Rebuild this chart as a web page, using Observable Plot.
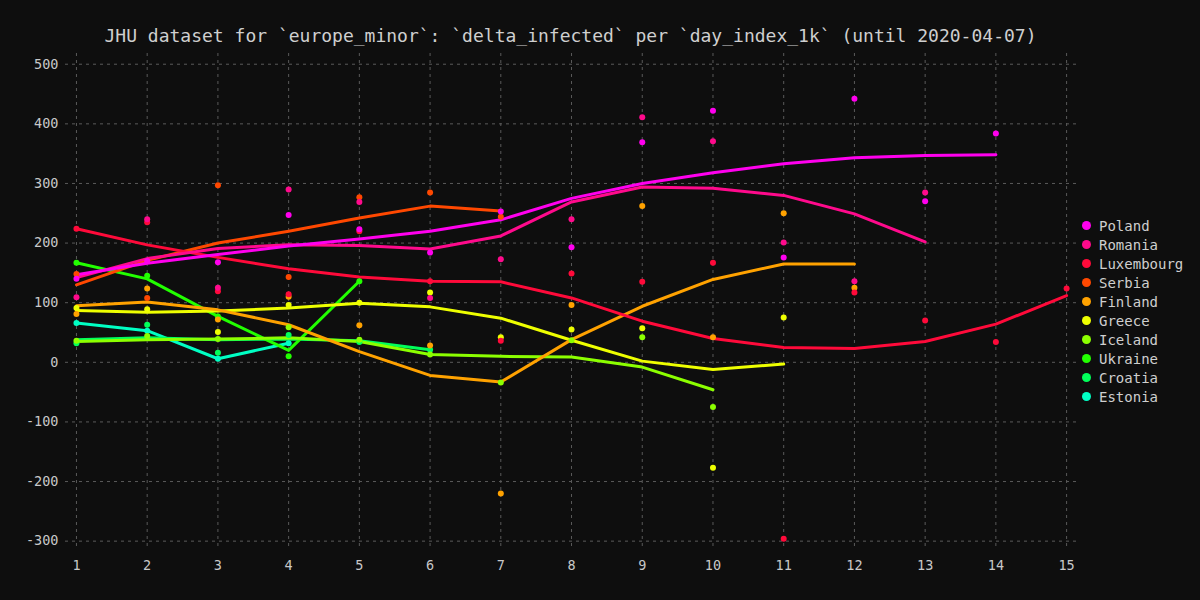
<!DOCTYPE html>
<html>
<head>
<meta charset="utf-8">
<script src="https://cdn.jsdelivr.net/npm/d3@7"></script>
<script src="https://cdn.jsdelivr.net/npm/@observablehq/plot@0.6"></script>
<style>
  html, body { margin: 0; padding: 0; background: #0e0e0e; }
  body { width: 1200px; height: 600px; overflow: hidden; position: relative; font-family: "DejaVu Sans Mono", "Liberation Mono", monospace; }
  #title { position: absolute; left: 0; top: 25px; width: 1141px; text-align: center; color: #cfcfcf; font-size: 18px; line-height: 22px; white-space: nowrap; }
  #chart { position: absolute; left: 0; top: 51px; }
  #legend { position: absolute; left: 1082px; top: 216px; }
  .row { height: 19px; display: flex; align-items: center; color: #cfcfcf; font-size: 14px; white-space: nowrap; }
  .sw { width: 9px; height: 9px; border-radius: 50%; margin-right: 8px; }
</style>
</head>
<body>
<div id="title">JHU dataset for `europe_minor`: `delta_infected` per `day_index_1k` (until 2020-04-07)</div>
<div id="chart"></div>
<div id="legend"></div>
<script>
const days = [1, 2, 3, 4, 5, 6, 7, 8, 9, 10, 11, 12, 13, 14, 15];
const yTicks = [-300, -200, -100, 0, 100, 200, 300, 400, 500];
const countries = ["Poland", "Romania", "Luxembourg", "Serbia", "Finland", "Greece", "Iceland", "Ukraine", "Croatia", "Estonia"];
const colors = ["#ff00ee", "#ff0a8c", "#ff0a3a", "#ff4800", "#ffa200", "#eeff00", "#8cff00", "#22ff00", "#00ff5a", "#00ffc4"];

// daily points (index 0 = day 1)
const polandPts     = [140, 170, 168, 247, 223, 184, 253, 193, 369, 422, 176, 442, 270, 384];
const romaniaPts    = [109, 240, 125, 290, 269, 108, 173, 240, 411, 371, 201, 136, 285];
const luxembourgPts = [224, 235, 119, 114, 220, 136, 36, 149, 135, 167, -296, 117, 70, 34, 124];
const serbiaPts     = [148, 108, 297, 143, 277, 285, 244];
const finlandPts    = [81, 124, 72, 110, 62, 28, -220, 96, 262, 42, 250, 125];
const greecePts     = [91, 89, 51, 96, 100, 117, 42, 55, 57, -177, 75];
const icelandPts    = [36, 44, 39, 59, 38, 13, -34, 37, 42, -75];
const ukrainePts    = [167, 145, 77, 10, 136];
const croatiaPts    = [32, 63, 16, 46, 34, 21];
const estoniaPts    = [66, 53, 6, 32];

// smoothed trend lines (index 0 = day 1)
const polandLine     = [147, 166, 181, 195, 207, 220, 239, 275, 300, 318, 333, 343, 347, 348];
const romaniaLine    = [142, 174, 191, 197, 196, 190, 212, 269, 294, 292, 280, 249, 202];
const luxembourgLine = [224, 197, 176, 157, 143, 136, 135, 108, 69, 40, 25, 23, 35, 64, 112];
const serbiaLine     = [130, 171, 200, 220, 242, 262, 254];
const finlandLine    = [95, 101, 88, 63, 18, -22, -33, 38, 94, 139, 165, 165];
const greeceLine     = [87, 84, 86, 91, 99, 93, 74, 37, 2, -12, -3];
const icelandLine    = [35, 38, 39, 41, 35, 13, 10, 9, -8, -46];
const ukraineLine    = [167, 140, 77, 20, 136];
const croatiaLine    = [38, 41, 38, 39, 36, 21];
const estoniaLine    = [66, 53, 6, 32];

const ptsArrays = [polandPts, romaniaPts, luxembourgPts, serbiaPts, finlandPts, greecePts, icelandPts, ukrainePts, croatiaPts, estoniaPts];
const lineArrays = [polandLine, romaniaLine, luxembourgLine, serbiaLine, finlandLine, greeceLine, icelandLine, ukraineLine, croatiaLine, estoniaLine];

const pointRows = [];
const lineRows = [];
for (let i = countries.length - 1; i >= 0; i--) {
  ptsArrays[i].forEach((v, j) => { if (v != null) pointRows.push({country: countries[i], day: days[j], value: v}); });
  lineArrays[i].forEach((v, j) => { if (v != null) lineRows.push({country: countries[i], day: days[j], value: v}); });
}

const gridStyle = {stroke: "#5a5a5a", strokeOpacity: 1, strokeDasharray: "3,4", strokeWidth: 1};

const chart = Plot.plot({
  width: 1200,
  height: 550,
  marginLeft: 65,
  marginRight: 124,
  marginTop: 2,
  marginBottom: 52,
  style: {background: "transparent", color: "#c8c8c8", fontFamily: "'DejaVu Sans Mono', monospace", fontSize: "13.5px"},
  x: {domain: [0.845, 15.14], label: null},
  y: {domain: [-314, 518], label: null},
  color: {domain: countries, range: colors},
  marks: [
    Plot.gridX(days, gridStyle),
    Plot.gridY(yTicks, gridStyle),
    Plot.axisX(days, {tickSize: 0, tickPadding: 11, label: null, tickFormat: d => String(d)}),
    Plot.axisY(yTicks, {tickSize: 0, tickPadding: 7, label: null, tickFormat: d => String(d)}),
    Plot.line(lineRows, {x: "day", y: "value", z: "country", stroke: "country", strokeWidth: 3}),
    Plot.dot(pointRows, {x: "day", y: "value", fill: "country", r: 3})
  ]
});
document.getElementById("chart").appendChild(chart);

const legend = document.getElementById("legend");
countries.forEach((c, i) => {
  const row = document.createElement("div");
  row.className = "row";
  const sw = document.createElement("span");
  sw.className = "sw";
  sw.style.background = chart.scale("color").apply(c);
  const t = document.createElement("span");
  t.textContent = c;
  row.appendChild(sw);
  row.appendChild(t);
  legend.appendChild(row);
});
</script>
</body>
</html>
